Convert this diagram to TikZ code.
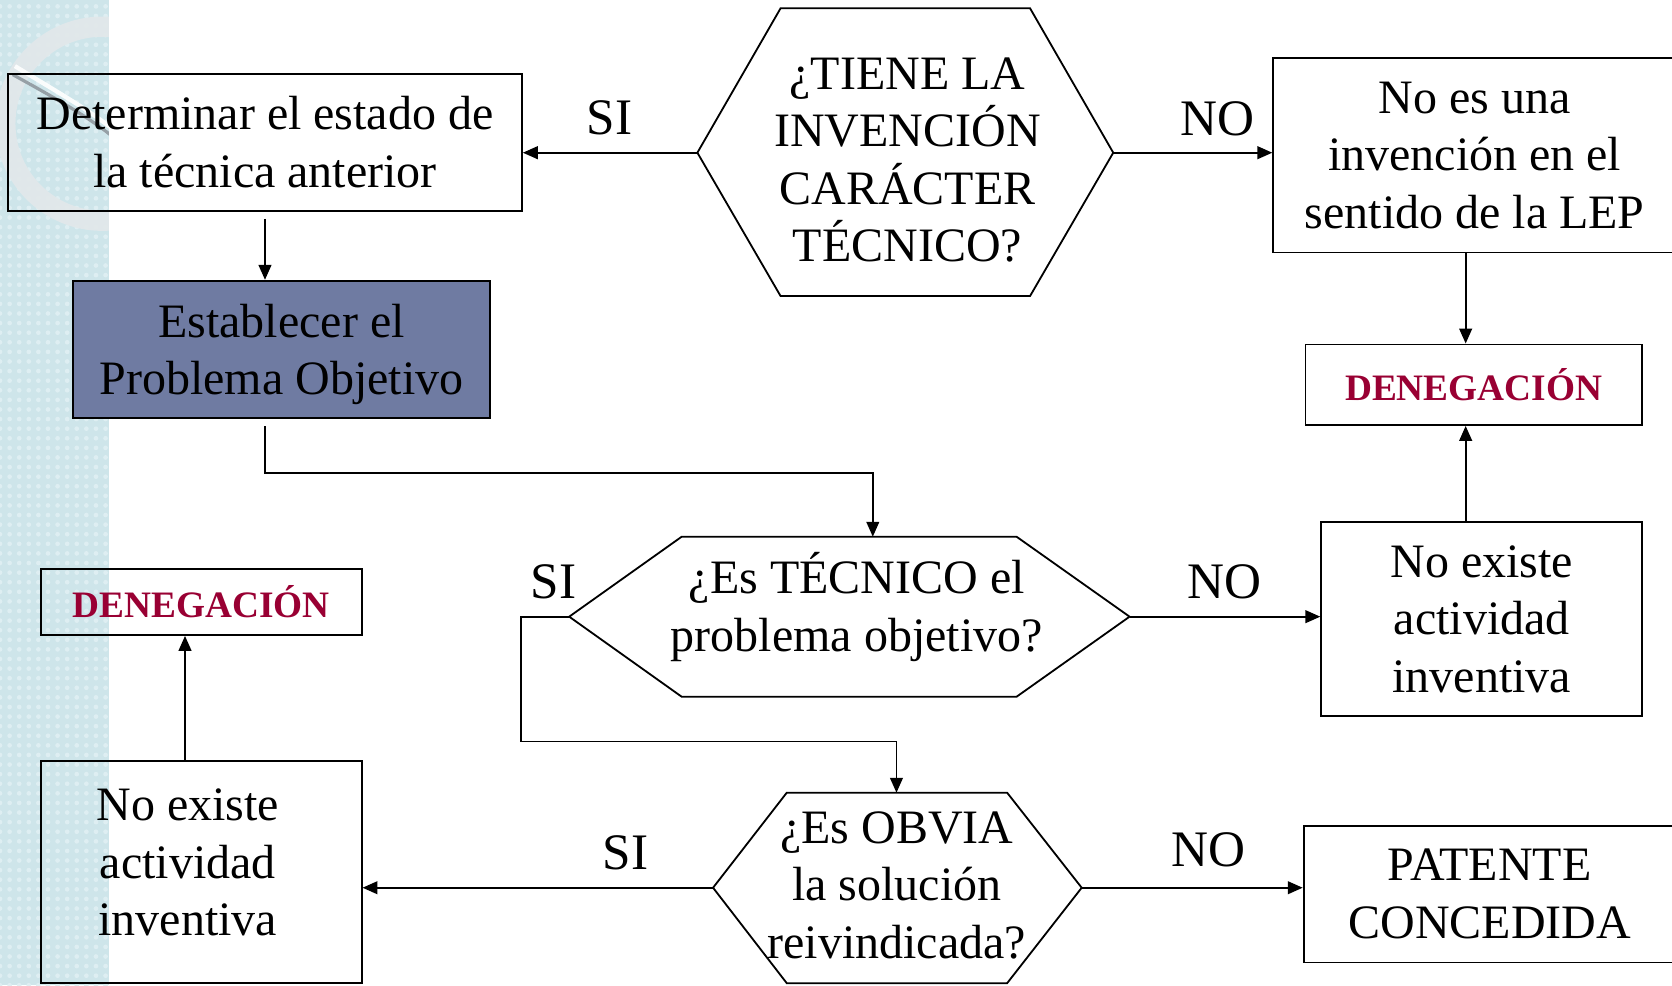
\documentclass[tikz,border=0pt]{standalone}
\usepackage{fontspec}
\setmainfont{Liberation Serif}
\usetikzlibrary{arrows.meta,patterns.meta,calc}
\definecolor{stripebg}{RGB}{206,229,234}
\definecolor{stripedot}{RGB}{222,238,242}
\definecolor{ringcol}{RGB}{226,232,234}
\definecolor{ringdark}{RGB}{150,160,166}
\definecolor{probfill}{RGB}{111,123,162}
\definecolor{denred}{RGB}{153,0,51}
\begin{document}
\begin{tikzpicture}[x=1pt,y=-1pt,
  box/.style={draw, line width=1.7pt, rectangle, inner sep=0pt, align=center,
              font=\fontsize{45}{54}\selectfont},
  qtext/.style={align=center, inner sep=0pt, font=\fontsize{45}{54}\selectfont},
  hexshape/.style={draw, line width=1.7pt, line join=miter},
  lbl/.style={anchor=base, inner sep=0pt, font=\fontsize{48}{54}\selectfont},
  dentext/.style={text=denred, font=\fontsize{35}{40}\selectfont\bfseries},
  arr/.style={line width=1.6pt, -{Triangle[length=14pt,width=12pt]}},
]
\useasboundingbox (0,0) rectangle (1568,924);

% decorative stripe
\fill[stripebg] (0,0) rectangle (102,924);
\fill[pattern={Dots[distance=9pt,radius=2.2pt]}, pattern color=stripedot] (0,0) rectangle (102,924);
\begin{scope}
  \clip (0,0) rectangle (102,260);
  \draw[ringcol, line width=19pt, opacity=0.9] (96,116) circle[radius=91];
  \draw[white, line width=4pt, opacity=0.9] (14,62) .. controls (50,84) and (80,101) .. (103,119);
  \draw[ringdark, line width=3pt] (12,70) .. controls (50,91) and (80,108) .. (103,126);
\end{scope}

% boxes
\node[box, minimum width=482, minimum height=128] (det) at (248.5,133.5) {Determinar el estado de\\la técnica anterior};
\node[box, fill=probfill, minimum width=391, minimum height=128.5, text depth=0pt] (est) at (264,327.5) {Establecer el\\Problema Objetivo};
\node[box, minimum width=378, minimum height=182.5] (noes) at (1383,145.5) {No es una\\invención en el\\sentido de la LEP};
\node[box, dentext, minimum width=315.6, minimum height=75.6] (denr) at (1382,360.8) {DENEGACIÓN};
\node[box, minimum width=301, minimum height=182.5] (nexr) at (1389.5,580.5) {No existe\\actividad\\inventiva};
\node[box, minimum width=349, minimum height=128.3] (pat) at (1397,838.5) {PATENTE\\CONCEDIDA};
\node[box, dentext, minimum width=300.7, minimum height=62] (denl) at (188.8,564.5) {DENEGACIÓN};
\node[box, minimum width=300.7, minimum height=208.8] (nexl) at (188.8,817.8) {};
\node[qtext] (nexlt) at (176,809) {No existe\\actividad\\inventiva};

% hexagon 1
\coordinate (h1w) at (654,143.2);  \coordinate (h1nw) at (732,7.8);  \coordinate (h1ne) at (966,7.8);
\coordinate (h1e) at (1044,143.2); \coordinate (h1se) at (966,277.6); \coordinate (h1sw) at (732,277.6);
\draw[hexshape] (h1w) -- (h1nw) -- (h1ne) -- (h1e) -- (h1se) -- (h1sw) -- cycle;
\node[qtext] (h1) at (851,150) {¿TIENE LA\\INVENCIÓN\\CARÁCTER\\TÉCNICO?};

% hexagon 2
\coordinate (h2w) at (533.8,578.3);  \coordinate (h2nw) at (639.3,503.3); \coordinate (h2ne) at (953.3,503.3);
\coordinate (h2e) at (1059.3,578.3); \coordinate (h2se) at (953.3,653.4); \coordinate (h2sw) at (639.3,653.4);
\draw[hexshape] (h2w) -- (h2nw) -- (h2ne) -- (h2e) -- (h2se) -- (h2sw) -- cycle;
\node[qtext] (h2) at (803.5,569.5) {¿Es TÉCNICO el\\problema objetivo?};

% hexagon 3
\coordinate (h3w) at (668.7,832.5);  \coordinate (h3nw) at (737.8,743.4); \coordinate (h3ne) at (944.5,743.4);
\coordinate (h3e) at (1014.4,832.5); \coordinate (h3se) at (944.5,922);   \coordinate (h3sw) at (737.8,922);
\draw[hexshape] (h3w) -- (h3nw) -- (h3ne) -- (h3e) -- (h3se) -- (h3sw) -- cycle;
\node[qtext] (h3) at (841,830) {¿Es OBVIA\\la solución\\reivindicada?};

% helper coordinates
\coordinate (bend1) at (818.5,443.3);
\coordinate (bend2) at (840.7,695.5);
\coordinate (vr) at (1374.5,0);
\coordinate (vl) at (173.5,0);

% connectors
\draw[arr] (h1w) -- (h1w -| det.east);
\draw[arr] (h1e) -- (h1e -| noes.west);
\draw[arr] ($(det.south)+(0,7)$) -- (det.south |- est.north);
\draw[arr] ($(det.south |- est.south)+(0,7)$) |- (bend1) -- (bend1 |- h2nw);
\draw[arr] (h2w) -- ++(-45.2,0) |- (bend2) -- (bend2 |- h3nw);
\draw[arr] (h2e) -- (h2e -| nexr.west);
\draw[arr] (vr |- noes.south) -- (vr |- denr.north);
\draw[arr] (vr |- nexr.north) -- (vr |- denr.south);
\draw[arr] (h3w) -- (h3w -| nexl.east);
\draw[arr] (h3e) -- (h3e -| pat.west);
\draw[arr] (vl |- nexl.north) -- (vl |- denl.south);

% labels
\node[lbl] (lsi1) at (571.4,126.5) {SI};
\node[lbl] (lno1) at (1142,126.6) {NO};
\node[lbl] (lsi2) at (519,561) {SI};
\node[lbl] (lno2) at (1148.5,561) {NO};
\node[lbl] (lsi3) at (586.5,815) {SI};
\node[lbl] (lno3) at (1133.5,813) {NO};
\end{tikzpicture}
\end{document}
